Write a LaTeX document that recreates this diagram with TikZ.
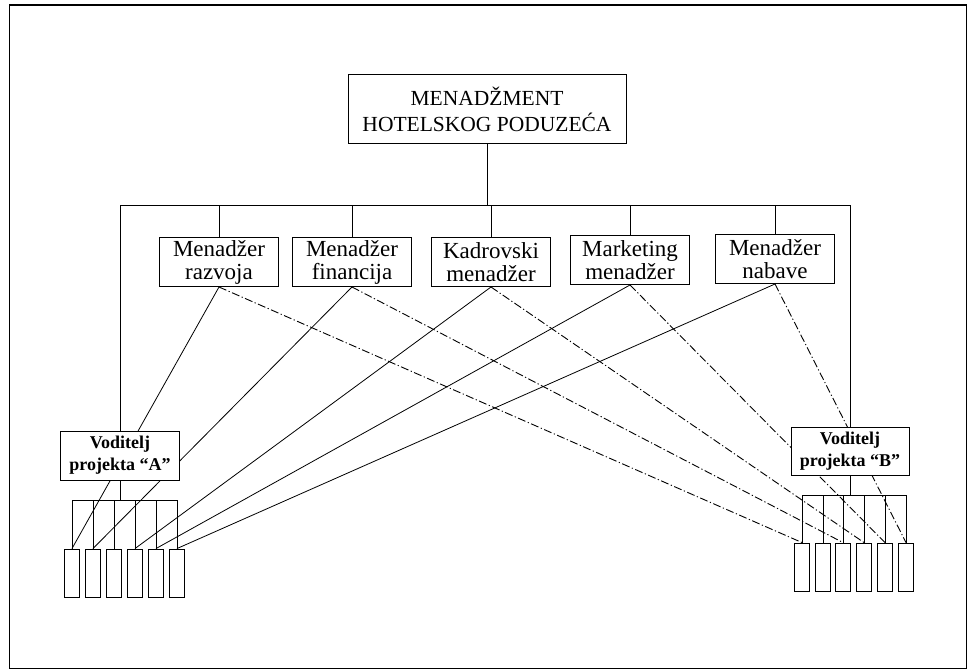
\documentclass[tikz,border=0pt]{standalone}
\usepackage{fontspec}
\setmainfont{Liberation Serif}
\usepackage{tikz}

\tikzset{
  mbox/.style={draw,fill=white,line width=1pt,minimum width=119pt,minimum height=49pt,
    inner sep=0pt,align=center,font=\fontsize{23}{23}\selectfont},
  vbox/.style={draw,fill=white,line width=1pt,minimum width=119pt,minimum height=49pt,
    inner sep=0pt,align=center,font=\fontsize{18}{22}\selectfont\bfseries},
  cell/.style={draw,fill=white,line width=0.9pt,minimum width=15pt,minimum height=48pt,inner sep=0pt},
  link/.style={line width=0.8pt},
  dlink/.style={line width=0.9pt,dash pattern=on 8pt off 2.5pt on 1.2pt off 2.5pt}
}

\begin{document}
\begin{tikzpicture}[x=1pt,y=-1pt]
\useasboundingbox (0,0) rectangle (969,669);
\draw[line width=1pt] (9,5) rectangle (966,668);
\draw[line width=2pt] (9,5) -- (966,5);

% top of the hierarchy
\node[mbox,minimum width=278pt,minimum height=68pt,font=\fontsize{21.5}{26}\selectfont] (top) at (487,109)
  {MENAD\v{Z}MENT\\HOTELSKOG PODUZE\'{C}A};
\coordinate (bus) at (487,205);

% functional managers
\node[mbox] (m1) at (219,262) {Menad\v{z}er\\razvoja};
\node[mbox] (m2) at (352,262) {Menad\v{z}er\\financija};
\node[mbox] (m3) at (491,262) {Kadrovski\\menad\v{z}er};
\node[mbox] (m4) at (630,260) {Marketing\\menad\v{z}er};
\node[mbox] (m5) at (775,259) {Menad\v{z}er\\nabave};

% project teams
\node[cell] (a1) at (72,573) {};
\node[cell] (a2) at (93,573) {};
\node[cell] (a3) at (114,573) {};
\node[cell] (a4) at (135,573) {};
\node[cell] (a5) at (156,573) {};
\node[cell] (a6) at (177,573) {};
\node[cell] (b1) at (802,567) {};
\node[cell] (b2) at (823,567) {};
\node[cell] (b3) at (843,567) {};
\node[cell] (b4) at (864,567) {};
\node[cell] (b5) at (885,567) {};
\node[cell] (b6) at (906,567) {};
\coordinate (subA) at (120,500);
\coordinate (subB) at (850,495);

% lines from managers to team members
\draw[link] (m1.south) -- (a1.north);
\draw[link] (m2.south) -- (a2.north);
\draw[link] (m3.south) -- (a4.north);
\draw[link] (m4.south) -- (a5.north);
\draw[link] (m5.south) -- (a6.north);
\draw[dlink] (m1.south) -- (b1.north);
\draw[dlink] (m2.south) -- (b3.north);
\draw[dlink] (m3.south) -- (b4.north);
\draw[dlink] (m4.south) -- (b5.north);
\draw[dlink] (m5.south) -- (b6.north);

% line of command
\draw[link] (top.south) -- (bus);
\draw[link] (120,205) -- (850,205);
\foreach \m in {m1,m2,m3,m4,m5}
  \draw[link] (\m.north) -- (\m.north |- bus);

\node[vbox] (va) at (120,455.5) {Voditelj\\projekta \textquotedblleft A\textquotedblright};
\node[vbox,minimum width=118pt,minimum height=48pt] (vb) at (850,451) {Voditelj\\projekta \textquotedblleft B\textquotedblright};
\draw[link] (va.north) -- (va.north |- bus);
\draw[link] (vb.north) -- (vb.north |- bus);

\draw[link] (va.south) -- (subA);
\draw[link] (a1.north |- subA) -- (a6.north |- subA);
\foreach \c in {a1,a2,a3,a4,a5,a6}
  \draw[link] (\c.north) -- (\c.north |- subA);
\draw[link] (vb.south) -- (subB);
\draw[link] (b1.north |- subB) -- (b6.north |- subB);
\foreach \c in {b1,b2,b3,b4,b5,b6}
  \draw[link] (\c.north) -- (\c.north |- subB);
\end{tikzpicture}
\end{document}
